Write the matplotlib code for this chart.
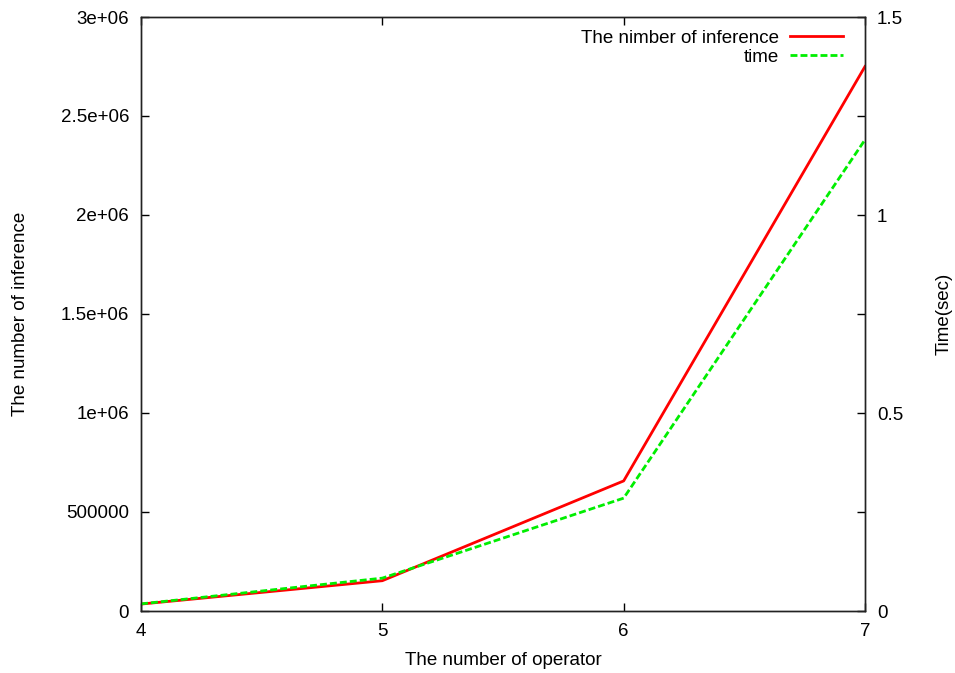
import matplotlib
matplotlib.use('Agg')
import matplotlib.pyplot as plt

plt.rcParams['font.family'] = ['Liberation Sans', 'DejaVu Sans']
plt.rcParams['font.size'] = 13.5

# data
operators = [4, 5, 6, 7]
inferences = [35000, 153000, 657000, 2750000]
times = [0.018, 0.083, 0.285, 1.19]

fig = plt.figure(figsize=(9.55, 6.73), dpi=100)
ax = fig.add_axes([141 / 955, 62 / 673, 724 / 955, 594 / 673])
ax2 = ax.twinx()

l1, = ax.plot(operators, inferences, color='#ff0000', lw=2,
              label='The nimber of inference')
l2, = ax2.plot(operators, times, color='#00ee00', lw=2, dashes=(2.5, 1.1),
               label='time')

ax.set_xlim(4, 7)
ax.set_ylim(0, 3e6)
ax2.set_ylim(0, 1.5)
ax.set_xticks(operators)
ax.set_yticks([0, 5e5, 1e6, 1.5e6, 2e6, 2.5e6, 3e6])
ax.set_yticklabels(['0', '500000', '1e+06', '1.5e+06', '2e+06', '2.5e+06', '3e+06'])
ax2.set_yticks([0, 0.5, 1, 1.5])
ax2.set_yticklabels(['0', '0.5', '1', '1.5'])
ax2.set_yticks([0.25, 0.75, 1.25], minor=True)

ax.tick_params(direction='in', length=6, width=1, top=True, pad=8.5)
ax2.tick_params(direction='in', length=6, width=1, pad=8.5)
ax2.tick_params(which='minor', direction='in', length=6, width=1)
for a in (ax, ax2):
    for s in a.spines.values():
        s.set_linewidth(1)
        s.set_color('#222222')

ax.set_xlabel('The number of operator', labelpad=8.5)
ax.set_ylabel('The number of inference', labelpad=23)
ax2.set_ylabel('Time(sec)', labelpad=23.5)

ax2.legend(handles=[l1, l2], loc='upper right', frameon=False,
           bbox_to_anchor=(0.9696, 0.979), borderpad=0, borderaxespad=0,
           markerfirst=False, handlelength=2.83, labelspacing=0.12,
           handletextpad=0.6)

fig.savefig('out.png', dpi=100)
